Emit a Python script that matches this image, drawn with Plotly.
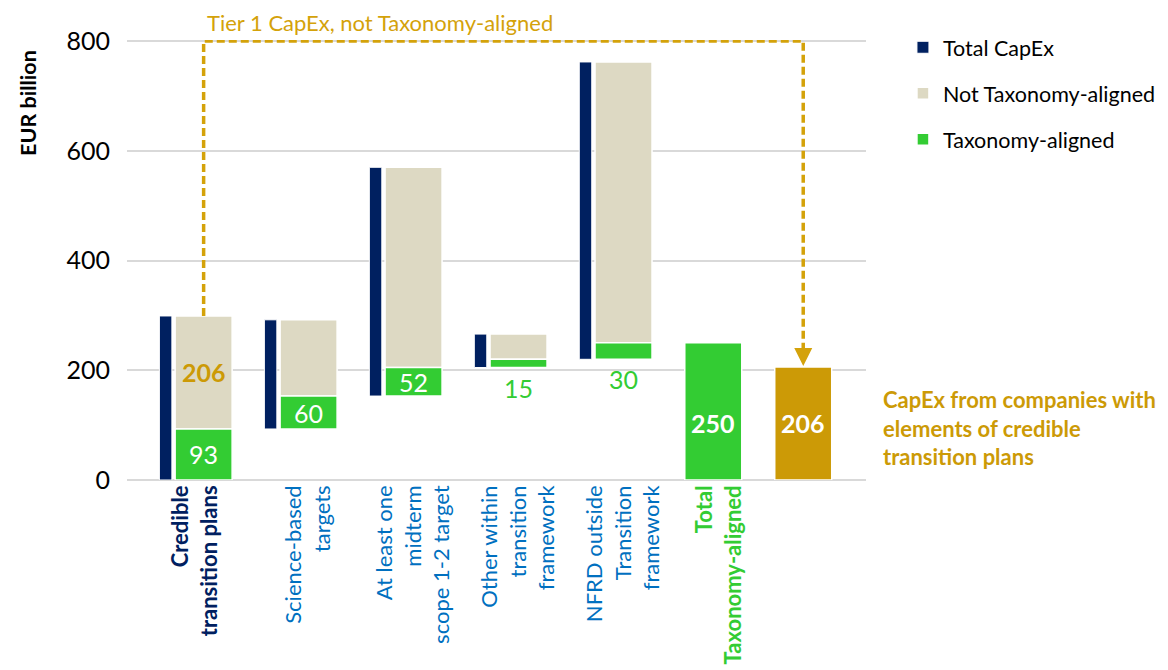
import plotly.graph_objects as go

# ---------------- data ----------------
categories = [
    "Credible transition plans",
    "Science-based targets",
    "At least one midterm scope 1-2 target",
    "Other within transition framework",
    "NFRD outside Transition framework",
    "Total Taxonomy-aligned",
    "",
]
tick_lines = [
    ["Credible", "transition plans"],
    ["Science-based", "targets"],
    ["At least one", "midterm", "scope 1-2 target"],
    ["Other within", "transition", "framework"],
    ["NFRD outside", "Transition", "framework"],
    ["Total", "Taxonomy-aligned"],
    [""],
]
aligned = [93, 60, 52, 15, 30]          # Taxonomy-aligned
not_aligned = [206, 139, 365, 46, 512]  # Not Taxonomy-aligned
y_ticks = [0, 200, 400, 600, 800]

# derived values
bases = []
acc = 0
for a in aligned:
    bases.append(acc)
    acc += a
total_aligned = acc
totals = [a + n for a, n in zip(aligned, not_aligned)]
tier1_not_aligned = not_aligned[0]

# ---------------- layout helpers (positions/styles) ----------------
x_pos = [0, 1, 2, 3, 4, 4.855, 5.712]
tick_pos = [-0.08, 1, 2, 3, 4, 4.915, 5.712]
NAVY_OFF = -0.362
NAVY_W = 0.119
WIDE_W = 0.543

NAVY = "#002060"
BEIGE = "#DDD9C3"
GREEN = "#33CC33"
GOLD = "#CC9A06"
DASH_GOLD = "#D4A20A"
BLUE = "#0070C0"
FONT = "Lato"

fig = go.Figure()

fig.add_trace(go.Bar(
    name="Total CapEx", x=[p + NAVY_OFF for p in x_pos[:5]], y=totals, base=bases,
    width=NAVY_W, marker=dict(color=NAVY, line=dict(color="white", width=1)),
    legendgroup="a", hoverinfo="skip",
))
fig.add_trace(go.Bar(
    name="Not Taxonomy-aligned", x=x_pos[:5], y=not_aligned,
    base=[b + a for b, a in zip(bases, aligned)],
    width=WIDE_W, marker=dict(color=BEIGE, line=dict(color="white", width=1.5)),
    legendgroup="b", hoverinfo="skip",
))
fig.add_trace(go.Bar(
    name="Taxonomy-aligned", x=x_pos[:5], y=aligned, base=bases,
    width=WIDE_W, marker=dict(color=GREEN, line=dict(color="white", width=1.5)),
    legendgroup="c", hoverinfo="skip",
))
fig.add_trace(go.Bar(
    name="Total Taxonomy-aligned", x=[x_pos[5]], y=[total_aligned], base=[0],
    width=WIDE_W, marker=dict(color=GREEN, line=dict(color="white", width=1.5)),
    showlegend=False, hoverinfo="skip", legendgroup="d",
))
fig.add_trace(go.Bar(
    name="Tier 1", x=[x_pos[6]], y=[tier1_not_aligned], base=[0],
    width=WIDE_W, marker=dict(color=GOLD, line=dict(color="white", width=1.5)),
    showlegend=False, hoverinfo="skip", legendgroup="e",
))

# ---------------- labels ----------------
LBL = 25
ann = []
for i in range(3):
    ann.append(dict(x=x_pos[i], y=bases[i] + aligned[i] / 2, xref="x", yref="y",
                    text=str(aligned[i]), showarrow=False,
                    font=dict(family=FONT, size=LBL, color="white")))
for i in (3, 4):
    ann.append(dict(x=x_pos[i], y=bases[i], xref="x", yref="y", yanchor="top", yshift=-3,
                    text=str(aligned[i]), showarrow=False,
                    font=dict(family=FONT, size=LBL, color=GREEN)))
ann.append(dict(x=x_pos[0], y=aligned[0] + not_aligned[0] / 2, xref="x", yref="y",
                text="<b>%d</b>" % not_aligned[0], showarrow=False,
                font=dict(family=FONT, size=LBL, color=GOLD)))
ann.append(dict(x=x_pos[5], y=tier1_not_aligned / 2, xref="x", yref="y",
                text="<b>%d</b>" % total_aligned, showarrow=False,
                font=dict(family=FONT, size=LBL, color="white")))
ann.append(dict(x=x_pos[6], y=tier1_not_aligned / 2, xref="x", yref="y",
                text="<b>%d</b>" % tier1_not_aligned, showarrow=False,
                font=dict(family=FONT, size=LBL, color="white")))

# arrow head
ann.append(dict(x=x_pos[6], y=tier1_not_aligned, xref="x", yref="y",
                ax=0, ay=-16, text="", showarrow=True, arrowhead=2,
                arrowsize=1.2, arrowwidth=3, arrowcolor=DASH_GOLD, standoff=1))

ann.append(dict(x=x_pos[0], y=1.0, xref="x", yref="paper", xanchor="left", yanchor="bottom",
                xshift=1, yshift=2,
                text="Tier 1 CapEx, not Taxonomy-aligned", showarrow=False,
                font=dict(family=FONT, size=22, color=DASH_GOLD)))
ann.append(dict(x=1.02, y=0.118, xref="paper", yref="paper", xanchor="left", yanchor="middle",
                align="left",
                text="<b>CapEx from companies with<br>elements of credible<br>transition plans</b>",
                showarrow=False, font=dict(family=FONT, size=22, color=GOLD)))
ann.append(dict(x=-0.134, y=0.857, xref="paper", yref="paper", xanchor="center", yanchor="middle",
                textangle=-90, text="<b>EUR billion</b>", showarrow=False,
                font=dict(family=FONT, size=21.5, color="black")))

top_level = y_ticks[-1]
shapes = [dict(
    type="path", xref="x", yref="y",
    path="M %f,%f L %f,%f L %f,%f L %f,%f" % (
        x_pos[0], totals[0], x_pos[0], top_level, x_pos[6], top_level,
        x_pos[6], tier1_not_aligned + 20),
    line=dict(color=DASH_GOLD, width=3.5, dash="8px,4px"),
)]

tick_text = []
for i, lines in enumerate(tick_lines):
    t = "<br>".join(lines)
    if i == 0:
        t = '<span style="color:%s"><b>%s</b></span>' % (NAVY, t)
    elif i == 5:
        t = '<span style="color:%s"><b>%s</b></span>' % (GREEN, t)
    else:
        t = '<span style="color:%s">%s</span>' % (BLUE, t)
    tick_text.append(t)

# page body has an 8px default margin, so the figure is drawn 8px in from the corner
fig.update_layout(
    width=1160, height=662,
    margin=dict(l=119, r=302, t=32, b=190, autoexpand=False),
    paper_bgcolor="white", plot_bgcolor="white",
    barmode="overlay",
    font=dict(family=FONT, size=22, color="black"),
    showlegend=True,
    legend=dict(x=1.05, y=1.03, xanchor="left", yanchor="top", traceorder="grouped",
                tracegroupgap=15, itemwidth=30,
                font=dict(family=FONT, size=21.5, color="black"), bgcolor="rgba(0,0,0,0)"),
    annotations=ann,
    shapes=shapes,
    xaxis=dict(range=[-0.73, 6.31], tickmode="array", tickvals=tick_pos, ticktext=tick_text,
               tickangle=-90, showgrid=False, zeroline=False, showline=False, ticks="",
               tickfont=dict(family=FONT, size=22)),
    yaxis=dict(range=[0, 802], tickmode="array", tickvals=y_ticks,
               ticktext=[str(v) for v in y_ticks],
               showgrid=True, gridcolor="#D9D9D9", gridwidth=1.5,
               zeroline=True, zerolinecolor="#D9D9D9", zerolinewidth=1.5,
               showline=False, ticks="", ticklabelstandoff=16,
               tickfont=dict(family=FONT, size=25, color="black")),
)

fig.write_html("out.html")
